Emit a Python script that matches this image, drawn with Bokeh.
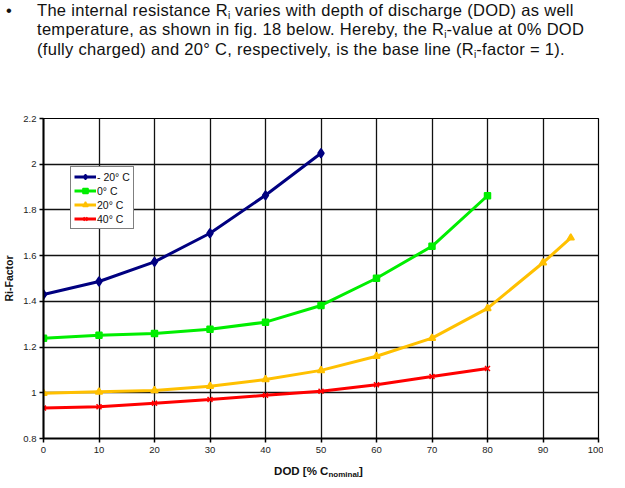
from bokeh.plotting import figure
from bokeh.models import Range1d, FixedTicker, CustomJSTickFormatter, Div, Legend, LegendItem
from bokeh.layouts import column
from bokeh.embed import file_html
from bokeh.resources import INLINE

# ---- data ----
dod_m20 = [0, 10, 20, 30, 40, 50]
ri_m20 = [1.430, 1.487, 1.573, 1.698, 1.864, 2.048]

dod_0 = [0, 10, 20, 30, 40, 50, 60, 70, 80]
ri_0 = [1.239, 1.252, 1.259, 1.278, 1.309, 1.382, 1.501, 1.641, 1.862]

dod_20 = [0, 10, 20, 30, 40, 50, 60, 70, 80, 90, 95]
ri_20 = [0.998, 1.004, 1.010, 1.029, 1.058, 1.098, 1.160, 1.239, 1.369, 1.569, 1.678]

dod_40 = [0, 10, 20, 30, 40, 50, 60, 70, 80]
ri_40 = [0.933, 0.939, 0.954, 0.971, 0.989, 1.007, 1.035, 1.071, 1.106]

series_labels = ["- 20° C", "0° C", "20° C", "40° C"]
x_ticks = [0, 10, 20, 30, 40, 50, 60, 70, 80, 90, 100]
y_ticks = [0.8, 1.0, 1.2, 1.4, 1.6, 1.8, 2.0, 2.2]

FONT = "Liberation Sans"
SUB = '<sub style="font-size:10px;line-height:0;vertical-align:-3px;letter-spacing:0">i</sub>'

header = Div(
    width=609, height=70,
    text=(
        f'<div style="position:relative;top:-4px;display:flex;font-family:\'{FONT}\',Arial,sans-serif;'
        'font-size:16.5px;letter-spacing:0.3px;line-height:19.3px;color:#111;white-space:nowrap;">'
        '<div style="width:32px;padding-left:1px;">&#8226;</div>'
        f'<div>The internal resistance R{SUB} varies with depth of discharge (DOD) as well<br>'
        f'temperature, as shown in fig. 18 below. Hereby, the R{SUB}-value at 0% DOD<br>'
        f'(fully charged) and 20° C, respectively, is the base line (R{SUB}-factor = 1).</div>'
        '</div>'
    ),
)

p = figure(
    frame_width=555, frame_height=320,
    x_range=Range1d(0, 100), y_range=Range1d(0.8, 2.2),
    output_backend="svg", toolbar_location=None,
    min_border_left=36, min_border_right=5, min_border_top=38, min_border_bottom=22,
    background_fill_color="white", border_fill_color="white",
)
p.outline_line_color = "black"
p.outline_line_width = 1.2

for ax in (p.xaxis[0], p.yaxis[0]):
    ax.axis_line_color = "black"
    ax.axis_line_width = 2
    ax.major_tick_line_color = "black"
    ax.major_tick_line_width = 1.5
    ax.major_tick_out = 4
    ax.major_tick_in = 0
    ax.minor_tick_line_color = None
    ax.major_label_text_font = FONT
    ax.major_label_text_font_size = "9.5px"
    ax.major_label_text_color = "#222"
    ax.major_label_standoff = 4

p.xaxis.ticker = FixedTicker(ticks=x_ticks)
p.yaxis.ticker = FixedTicker(ticks=y_ticks)
p.yaxis.formatter = CustomJSTickFormatter(code="return tick.toFixed(1).replace(/\\.0$/, '');")
p.yaxis.major_label_standoff = 3

p.yaxis.axis_label = "Ri-Factor"
p.yaxis.axis_label_text_font = FONT
p.yaxis.axis_label_text_font_size = "10.5px"
p.yaxis.axis_label_text_font_style = "bold"
p.yaxis.axis_label_text_color = "#111"
p.yaxis.axis_label_standoff = 5

p.xgrid.ticker = FixedTicker(ticks=x_ticks)
p.ygrid.ticker = FixedTicker(ticks=y_ticks)
for g in (p.xgrid[0], p.ygrid[0]):
    g.grid_line_color = "#111"
    g.grid_line_width = 1.3

specs = [
    (dod_m20, ri_m20, "#000080", "diamond", 9),
    (dod_0, ri_0, "#00ee00", "square", 6),
    (dod_20, ri_20, "#ffc000", "triangle", 7),
    (dod_40, ri_40, "#ff0000", "x", 7),
]
items = []
for (xs, ys, col, mk, sz), lab in zip(specs, series_labels):
    r1 = p.line(xs, ys, line_color=col, line_width=3)
    r2 = p.scatter(xs, ys, marker=mk, size=sz, fill_color=col, line_color=col, line_width=1.5)
    items.append(LegendItem(label=lab, renderers=[r1, r2]))

legend = Legend(items=items, location=(27, 209))
legend.label_text_font = FONT
legend.label_text_font_size = "10.5px"
legend.label_text_color = "#111"
legend.label_height = 13
legend.glyph_height = 13
legend.glyph_width = 22
legend.label_standoff = 1
legend.spacing = 1
legend.padding = 3
legend.margin = 0
legend.border_line_color = "black"
legend.border_line_width = 1.2
legend.background_fill_color = "white"
legend.background_fill_alpha = 1
p.add_layout(legend)

xlabel = Div(
    width=609, height=22,
    text=(
        f'<div style="position:relative;top:-5px;width:555px;margin-left:36px;text-align:center;'
        f'font-family:\'{FONT}\',Arial,sans-serif;'
        'font-size:11.5px;font-weight:bold;color:#111;line-height:22px;white-space:nowrap;">'
        'DOD [% C<sub style="font-size:8px;line-height:0;vertical-align:-2px">nominal</sub>]</div>'
    ),
)

layout = column(header, p, xlabel, spacing=0)
open("out.html", "w").write(file_html(layout, INLINE))
